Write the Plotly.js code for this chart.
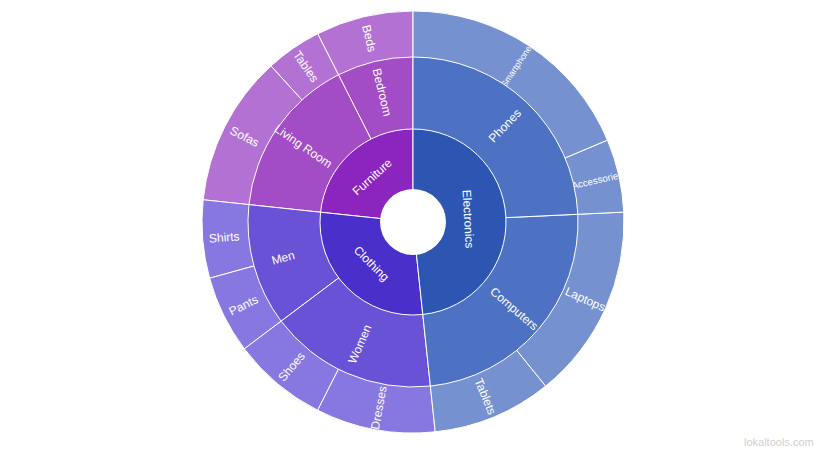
<!DOCTYPE html>
<html><head><meta charset="utf-8">
<script src="https://cdn.plot.ly/plotly-3.0.1.min.js"></script>
<style>html,body{margin:0;padding:0;background:#fff}#chart{width:828px;height:453px}</style>
</head><body><div id="chart"></div>
<script>
// ---- data (listed clockwise from 12 o'clock) ----
const categories = ['Electronics', 'Clothing', 'Furniture'];
const subcategories = ['Phones', 'Computers', 'Women', 'Men', 'Living Room', 'Bedroom'];
const subParents = ['Electronics', 'Electronics', 'Clothing', 'Clothing', 'Furniture', 'Furniture'];
const items = ['Smartphones', 'Accessories', 'Laptops', 'Tablets', 'Dresses', 'Shoes', 'Pants', 'Shirts', 'Sofas', 'Tables', 'Beds'];
const itemParents = ['Phones', 'Phones', 'Computers', 'Computers', 'Women', 'Women', 'Men', 'Men', 'Living Room', 'Living Room', 'Bedroom'];
const itemValues = [500, 150, 400, 245, 245, 195, 160, 160, 310, 115, 200];

// ---- styles ----
const palette = {
  Electronics: ['#2d56b3', '#4e72c3', '#7691cf'],
  Clothing:    ['#4b2fcb', '#6a52d6', '#8777e0'],
  Furniture:   ['#8c24be', '#a24cc6', '#b372d3']
};
const W = 828, H = 453, CX = 413, CY = 222;
const FONT = 'Liberation Sans, Arial, Helvetica, sans-serif';
const CLEAR = 'rgba(0,0,0,0)';

function dom(R) {
  return { x: [(CX - R) / W, (CX + R) / W], y: [(H - CY - R) / H, (H - CY + R) / H] };
}
const catOfSub = s => subParents[subcategories.indexOf(s)];
const subValues = subcategories.map(s => items.reduce((a, it, i) => a + (itemParents[i] === s ? itemValues[i] : 0), 0));
const catValues = categories.map(c => subcategories.reduce((a, s, i) => a + (subParents[i] === c ? subValues[i] : 0), 0));
const rev = a => a.slice().reverse();   // sunburst runs counterclockwise

const base = {
  type: 'sunburst', sort: false, rotation: 90, hoverinfo: 'none',
  leaf: { opacity: 1 }, textfont: { family: FONT, size: 12, color: '#ffffff' }
};

// coloured wedges of one level (several roots -> pie-like wedges from centre)
function wedges(labels, values, colors, R) {
  return Object.assign({}, base, {
    ids: rev(labels), labels: rev(labels), parents: labels.map(() => ''),
    values: rev(values), textinfo: 'none',
    marker: { colors: rev(colors), line: { color: '#ffffff', width: 1 } },
    domain: dom(R)
  });
}

// transparent ring carrying only the labels of one level; the label sector is kept
// centred on the true slice but trimmed so it never straddles the angle where
// plotly would switch the text to a horizontal placement
function labelRing(names, values, levels, R, orient) {
  const total = values.reduce((a, b) => a + b, 0);
  const avoid = orient === 'radial' ? [90, 270] : [0, 180, 360];
  const pieces = [];
  let start = 0;
  names.forEach((n, i) => {
    const span = values[i] / total * 360, end = start + span, mid = start + span / 2;
    let d = span / 2;
    avoid.forEach(a => { if (a > start + 1e-6 && a < end - 1e-6) d = Math.min(d, Math.abs(a - mid) - 0.5); });
    const pre = mid - d - start, post = end - (mid + d);
    if (pre > 1e-9) pieces.push({ label: '', value: pre });
    pieces.push({ label: n, value: 2 * d });
    if (post > 1e-9) pieces.push({ label: '', value: post });
    start = end;
  });
  const ids = ['root'], parents = [''], labels = [''], vals = [0];
  let parent = 'root';
  for (let k = 1; k < levels; k++) { ids.push('d' + k); parents.push(parent); labels.push(''); vals.push(0); parent = 'd' + k; }
  rev(pieces).forEach((p, j) => { ids.push('p' + j); parents.push(parent); labels.push(p.label); vals.push(p.value); });
  return Object.assign({}, base, {
    ids, labels, parents, values: vals, textinfo: 'label', branchvalues: 'remainder',
    marker: { colors: ids.map(() => CLEAR), line: { color: CLEAR, width: 0 } },
    domain: dom(R), insidetextorientation: orient
  });
}

const traces = [
  wedges(items, itemValues, items.map((it, i) => palette[catOfSub(itemParents[i])][2]), 211),
  labelRing(items, itemValues, 3, 216, 'radial'),
  wedges(subcategories, subValues, subcategories.map(s => palette[catOfSub(s)][1]), 165),
  labelRing(subcategories, subValues, 1, 178, 'radial'),
  wedges(categories, catValues, categories.map(c => palette[c][0]), 93),
  labelRing(categories, catValues, 1, 84, 'tangential'),
  Object.assign({}, base, {   // centre hole
    ids: ['hole'], labels: [''], parents: [''], values: [1], textinfo: 'none',
    marker: { colors: ['#ffffff'], line: { color: '#ffffff', width: 0 } }, domain: dom(33)
  })
];

const layout = {
  width: W, height: H, margin: { l: 0, r: 0, t: 0, b: 0 },
  paper_bgcolor: '#ffffff', showlegend: false,
  font: { family: FONT },
  annotations: [{
    text: 'lokaltools.com', xref: 'paper', yref: 'paper', x: 816 / W, y: 3 / H,
    xanchor: 'right', yanchor: 'bottom', showarrow: false,
    font: { family: FONT, size: 11, color: '#cfcfcf' }
  }]
};
Plotly.newPlot('chart', traces, layout, { displayModeBar: false, staticPlot: true });
</script>
</body></html>
